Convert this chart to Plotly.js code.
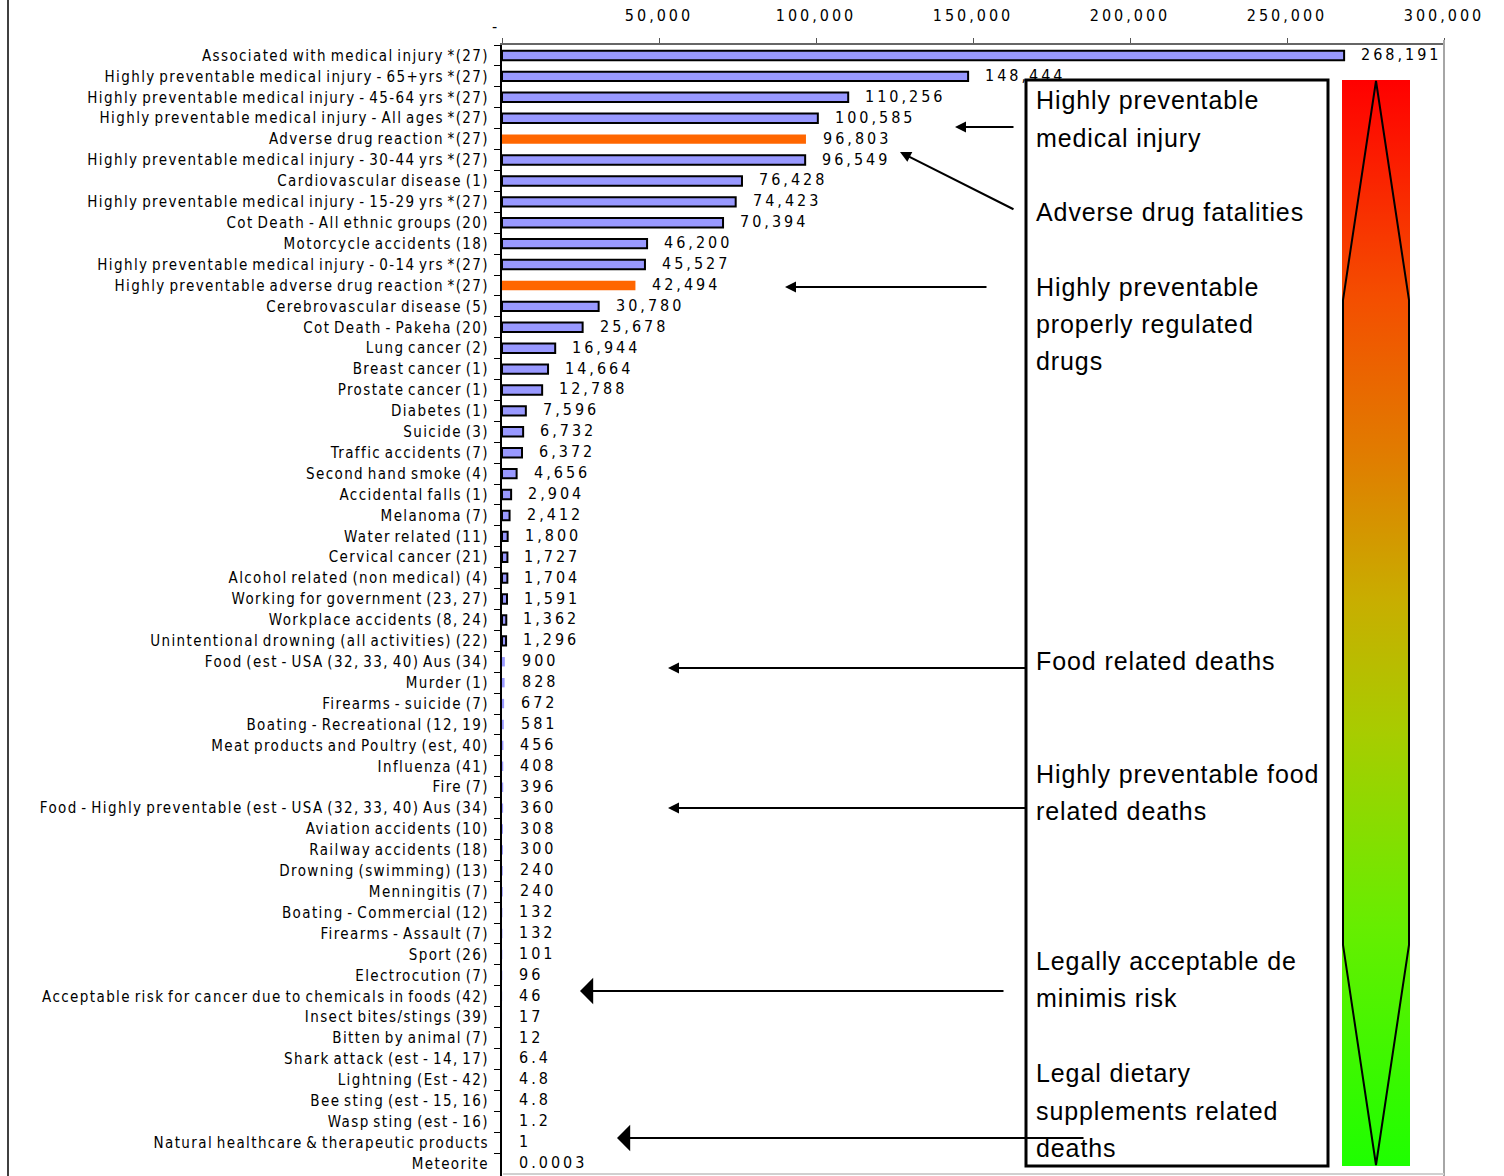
<!DOCTYPE html>
<html>
<head>
<meta charset="utf-8">
<script src="https://cdn.plot.ly/plotly-3.0.1.min.js"></script>
<style>
  html, body { margin: 0; padding: 0; background: #fff; }
  #chart { width: 1504px; height: 1176px; }
  text[style*="Narrow"] { letter-spacing: 3px; }
  .ytick text { letter-spacing: 1.4px !important; word-spacing: -2px; }
  text[style*="25px"] { letter-spacing: 0.9px; }
</style>
</head>
<body>
<div id="chart"></div>
<script>
const categories = [
  "Associated with medical injury *(27)",
  "Highly preventable medical injury - 65+yrs *(27)",
  "Highly preventable medical injury - 45-64 yrs *(27)",
  "Highly preventable medical injury - All ages *(27)",
  "Adverse drug reaction *(27)",
  "Highly preventable medical injury - 30-44 yrs *(27)",
  "Cardiovascular disease (1)",
  "Highly preventable medical injury - 15-29 yrs *(27)",
  "Cot Death - All ethnic groups (20)",
  "Motorcycle accidents (18)",
  "Highly preventable medical injury - 0-14 yrs *(27)",
  "Highly preventable adverse drug reaction *(27)",
  "Cerebrovascular disease (5)",
  "Cot Death - Pakeha (20)",
  "Lung cancer (2)",
  "Breast cancer (1)",
  "Prostate cancer (1)",
  "Diabetes (1)",
  "Suicide (3)",
  "Traffic accidents (7)",
  "Second hand smoke (4)",
  "Accidental falls (1)",
  "Melanoma (7)",
  "Water related (11)",
  "Cervical cancer (21)",
  "Alcohol related (non medical) (4)",
  "Working for government (23, 27)",
  "Workplace accidents (8, 24)",
  "Unintentional drowning (all activities) (22)",
  "Food (est - USA (32, 33, 40) Aus (34)",
  "Murder (1)",
  "Firearms - suicide (7)",
  "Boating - Recreational (12, 19)",
  "Meat products and Poultry (est, 40)",
  "Influenza (41)",
  "Fire (7)",
  "Food - Highly preventable (est - USA (32, 33, 40) Aus (34)",
  "Aviation accidents (10)",
  "Railway accidents (18)",
  "Drowning (swimming) (13)",
  "Menningitis (7)",
  "Boating - Commercial (12)",
  "Firearms - Assault (7)",
  "Sport (26)",
  "Electrocution (7)",
  "Acceptable risk for cancer due to chemicals in foods (42)",
  "Insect bites/stings (39)",
  "Bitten by animal (7)",
  "Shark attack (est - 14, 17)",
  "Lightning (Est - 42)",
  "Bee sting (est - 15, 16)",
  "Wasp sting (est - 16)",
  "Natural healthcare & therapeutic products",
  "Meteorite"
];

const deaths = [
  268191, 148444, 110256, 100585, 96803, 96549, 76428, 74423, 70394, 46200,
  45527, 42494, 30780, 25678, 16944, 14664, 12788, 7596, 6732, 6372,
  4656, 2904, 2412, 1800, 1727, 1704, 1591, 1362, 1296, 900,
  828, 672, 581, 456, 408, 396, 360, 308, 300, 240,
  240, 132, 132, 101, 96, 46, 17, 12, 6.4, 4.8,
  4.8, 1.2, 1, 0.0003
];

const highlighted = [
  "Adverse drug reaction *(27)",
  "Highly preventable adverse drug reaction *(27)"
];

const xTickVals = [0, 50000, 100000, 150000, 200000, 250000, 300000];
const xTickText = ["", "50,000", "100,000", "150,000", "200,000", "250,000", "300,000"];

const boxLines = [
  ["Highly preventable", 100], ["medical injury", 138],
  ["Adverse drug fatalities", 212],
  ["Highly preventable", 287], ["properly regulated", 324], ["drugs", 361],
  ["Food related deaths", 661],
  ["Highly preventable food", 774], ["related deaths", 811],
  ["Legally acceptable de", 961], ["minimis risk", 998],
  ["Legal dietary", 1073], ["supplements related", 1111], ["deaths", 1148]
];

// --- page geometry ---
const W = 1504, H = 1176;
const M = { l: 502, r: 60, t: 45, b: 0 };
const PW = W - M.l - M.r, PH = H - M.t - M.b;
const px = x => (x - M.l) / PW;
const py = y => 1 - (y - M.t) / PH;

const NARROW = '"Liberation Sans Narrow", "Arial Narrow", "DejaVu Sans Condensed", sans-serif';
const SANS = '"Liberation Sans", Arial, sans-serif';

const fmt = v => v >= 1000 ? v.toLocaleString('en-US') : String(v);

const barColors = categories.map(c => highlighted.includes(c) ? '#FF6600' : '#9999FF');
const barLineW = categories.map((c, i) => (highlighted.includes(c) || deaths[i] < 1000) ? 0 : 2);

const trace = {
  type: 'bar',
  orientation: 'h',
  x: deaths,
  y: categories,
  marker: { color: barColors, line: { color: '#000', width: barLineW } },
  hoverinfo: 'x+y'
};

const annotations = [];
// value labels
categories.forEach((c, i) => {
  annotations.push({
    x: deaths[i], y: c, xref: 'x', yref: 'y',
    text: fmt(deaths[i]), showarrow: false,
    xanchor: 'left', yanchor: 'middle', xshift: 15, yshift: 1,
    font: { family: NARROW, size: 16, color: '#000' }
  });
});
// zero tick label
annotations.push({
  x: px(490), y: py(15), xref: 'paper', yref: 'paper', text: '-', showarrow: false,
  font: { family: NARROW, size: 16, color: '#000' }
});
// box text
boxLines.forEach(([t, y]) => {
  annotations.push({
    x: px(1034), y: py(y), xref: 'paper', yref: 'paper', text: t, showarrow: false,
    xanchor: 'left', yanchor: 'middle',
    font: { family: SANS, size: 25, color: '#000' }
  });
});
// arrows: [tailX, tailY, headX, headY, big]
const arrows = [
  [1015, 127, 955, 127, false],
  [1015, 210, 900, 152, false],
  [988, 287, 785, 287, false],
  [1028, 668, 668, 668, false],
  [1028, 808, 668, 808, false],
  [1005, 991, 580, 991, true],
  [1085, 1138, 617, 1138, true]
];
arrows.forEach(([tx, ty, hx, hy, big]) => {
  annotations.push({
    x: px(hx), y: py(hy), ax: px(tx), ay: py(ty),
    xref: 'paper', yref: 'paper', axref: 'paper', ayref: 'paper',
    text: '', showarrow: true,
    arrowhead: big ? 1 : 2, arrowsize: big ? 2.2 : 1.1, arrowwidth: 2, arrowcolor: '#000',
    standoff: 0, startstandoff: 0
  });
});

const gradSvg =
  "<svg xmlns='http://www.w3.org/2000/svg' width='68' height='1086' viewBox='0 0 68 1086' preserveAspectRatio='none'>" +
  "<defs><linearGradient id='g' x1='0' y1='0' x2='0' y2='1'>" +
  "<stop offset='0' stop-color='#FF0000'/>" +
  "<stop offset='0.2' stop-color='#F44E00'/>" +
  "<stop offset='0.35' stop-color='#E07E00'/>" +
  "<stop offset='0.48' stop-color='#C8AE00'/>" +
  "<stop offset='0.6' stop-color='#A8CC00'/>" +
  "<stop offset='0.78' stop-color='#66EE00'/>" +
  "<stop offset='1' stop-color='#1EFF00'/>" +
  "</linearGradient></defs>" +
  "<rect x='0' y='0' width='68' height='1086' fill='url(#g)'/>" +
  "<polygon points='34,1 1,220 1,865 34,1085 67,865 67,220' fill='none' stroke='#000' stroke-width='2'/>" +
  "</svg>";

const layout = {
  width: W, height: H,
  margin: M,
  paper_bgcolor: '#fff', plot_bgcolor: '#fff',
  showlegend: false,
  bargap: 0.55,
  font: { family: NARROW, color: '#000' },
  xaxis: {
    side: 'top', range: [0, 300000], fixedrange: true,
    tickvals: xTickVals, ticktext: xTickText,
    ticks: 'outside', ticklen: 5, tickcolor: '#555', tickwidth: 1,
    showline: true, linecolor: '#666', linewidth: 2,
    showgrid: false, zeroline: false,
    tickfont: { family: NARROW, size: 16, color: '#000' },
    ticklabelstandoff: 11
  },
  yaxis: {
    type: 'category', autorange: 'reversed', fixedrange: true,
    ticks: 'outside', tickson: 'boundaries', ticklen: 6, tickcolor: '#000', tickwidth: 1,
    showline: true, linecolor: '#000', linewidth: 2,
    showgrid: false, zeroline: false,
    tickfont: { family: NARROW, size: 15, color: '#000' },
    ticklabelstandoff: 8
  },
  shapes: [
    // plot-area right and bottom border (light gray)
    { type: 'line', xref: 'paper', yref: 'paper', x0: 1, x1: 1, y0: py(40), y1: py(1176), line: { color: '#A6A6A6', width: 2 } },
    { type: 'line', xref: 'paper', yref: 'paper', x0: px(503), x1: 1, y0: py(1174), y1: py(1174), line: { color: '#D0D0D0', width: 2 } },
    // outer left border
    { type: 'line', xref: 'paper', yref: 'paper', x0: px(8), x1: px(8), y0: py(0), y1: py(1176), line: { color: '#000', width: 1.5 } },
    // text box
    { type: 'rect', xref: 'paper', yref: 'paper', x0: px(1026), x1: px(1328), y0: py(1166), y1: py(80),
      fillcolor: '#fff', line: { color: '#000', width: 3 } }
  ],
  images: [{
    source: 'data:image/svg+xml;utf8,' + encodeURIComponent(gradSvg),
    xref: 'paper', yref: 'paper',
    x: px(1342), y: py(80), sizex: px(1410) - px(1342), sizey: py(80) - py(1166),
    xanchor: 'left', yanchor: 'top', sizing: 'stretch', layer: 'above'
  }],
  annotations: annotations
};

Plotly.newPlot('chart', [trace], layout, { displayModeBar: false, staticPlot: true });
</script>
</body>
</html>
